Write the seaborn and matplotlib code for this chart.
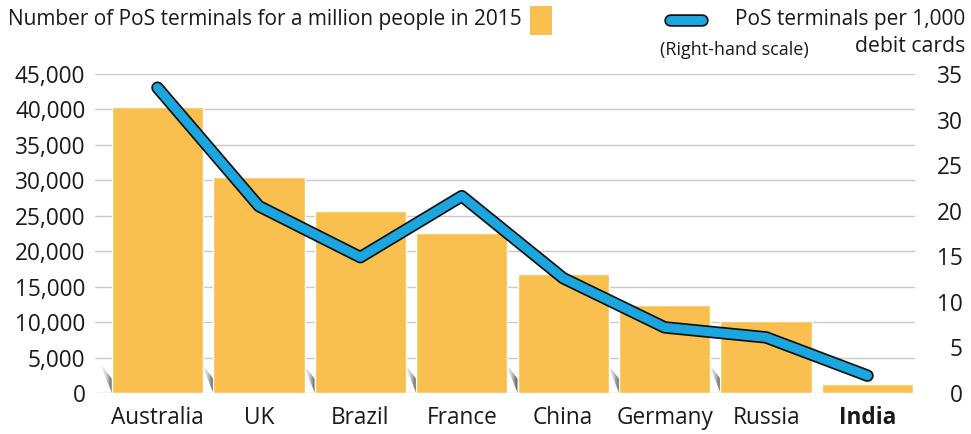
import numpy as np
import pandas as pd
import matplotlib
matplotlib.use("Agg")
import matplotlib.pyplot as plt
import matplotlib.patheffects as pe
from matplotlib.patches import Rectangle, Polygon
from matplotlib.lines import Line2D
from matplotlib.colors import LinearSegmentedColormap
import seaborn as sns

# ---- data ----
countries = ["Australia", "UK", "Brazil", "France", "China", "Germany", "Russia", "India"]
terminals_per_million = [40300, 30400, 25700, 22600, 16800, 12400, 10200, 1300]
terminals_per_1000_cards = [33.5, 20.5, 14.9, 21.6, 12.6, 7.2, 6.1, 1.9]
left_ticks = [0, 5000, 10000, 15000, 20000, 25000, 30000, 35000, 40000, 45000]
right_ticks = [0, 5, 10, 15, 20, 25, 30, 35]

BAR = "#F9C04F"
BLUE = "#1BA6E0"
GRID = "#C9C9C9"
FONT = "Open Sans"

sns.set_theme(style="white")
plt.rcParams["font.family"] = [FONT, "DejaVu Sans"]

W, H = 971, 434
fig = plt.figure(figsize=(W / 100, H / 100), dpi=100)
ax = fig.add_axes([95 / W, 41 / H, (915 - 95) / W, (393 - 74) / H])

df = pd.DataFrame({"country": countries, "value": terminals_per_million})
sns.barplot(data=df, x="country", y="value", color=BAR, width=0.9,
            saturation=1, ax=ax, zorder=2)
ax.set_xlim(-0.616, 7.468)
ax.set_ylim(0, 45000)
ax.set_yticks(left_ticks)
ax.set_yticklabels([f"{v:,}" for v in left_ticks])
ax.yaxis.grid(True, color=GRID, linewidth=1.0, zorder=0)
ax.set_axisbelow(True)
for s in ax.spines.values():
    s.set_visible(False)
ax.tick_params(axis="both", length=0, labelsize=16.3, colors="#1a1a1a")
ax.tick_params(axis="y", pad=7)
ax.tick_params(axis="x", pad=9.5)
ax.set_xlabel("")
ax.set_ylabel("")
for lab in ax.get_xticklabels():
    if lab.get_text() == "India":
        lab.set_fontweight("bold")

# small gradient shadow slivers at the left base of bars
shade = LinearSegmentedColormap.from_list("shade", ["#ffffff", "#d0d0d0", "#555555"])
grad = np.linspace(0, 1, 64).reshape(1, -1) * np.ones((64, 1))
for p in list(ax.patches):
    x0 = p.get_x()
    h = p.get_height()
    if h > 5000:
        poly = Polygon([(x0 - 0.12, 4300), (x0, 0), (x0, 2000)], closed=True,
                       facecolor="none", edgecolor="none", zorder=1.5)
        ax.add_patch(poly)
        im = ax.imshow(grad, extent=(x0 - 0.12, x0, 0, 4300), cmap=shade,
                       aspect="auto", origin="lower", zorder=1.5,
                       interpolation="bilinear")
        im.set_clip_path(poly)
ax.set_aspect("auto")
ax.set_xlim(-0.616, 7.468)
ax.set_ylim(0, 45000)

# right axis line
ax2 = ax.twinx()
sns.lineplot(x=np.arange(len(countries)), y=terminals_per_1000_cards, ax=ax2,
             color=BLUE, linewidth=6.5, zorder=3)
ln = ax2.lines[0]
ln.set_solid_capstyle("round")
ln.set_solid_joinstyle("round")
ln.set_path_effects([pe.Stroke(linewidth=9, foreground="#111111",
                               capstyle="round", joinstyle="round"), pe.Normal()])
ax2.set_ylim(0, 35)
ax2.set_yticks(right_ticks)
ax2.set_yticklabels([str(v) for v in right_ticks])
for s in ax2.spines.values():
    s.set_visible(False)
ax2.tick_params(axis="y", length=0, labelsize=16.3, colors="#1a1a1a", pad=34.5)
for lab in ax2.get_yticklabels():
    lab.set_horizontalalignment("right")
ax2.set_ylabel("")
ax2.grid(False)
ax.set_xlim(-0.616, 7.468)

# ---- legend / header ----
fig.text(8 / W, 1 - 20 / H, "Number of PoS terminals for a million people in 2015",
         fontsize=15, ha="left", va="center", color="#1a1a1a")
fig.patches.append(Rectangle((530 / W, 1 - 35 / H), 22 / W, 29 / H,
                             transform=fig.transFigure, facecolor=BAR,
                             edgecolor="none"))
leg_line = Line2D([670 / W, 702 / W], [1 - 20 / H, 1 - 20 / H],
                  transform=fig.transFigure, color=BLUE, linewidth=6.5,
                  solid_capstyle="round")
leg_line.set_path_effects([pe.Stroke(linewidth=9, foreground="#111111",
                                     capstyle="round"), pe.Normal()])
fig.lines.append(leg_line)
fig.text(965 / W, 1 - 19 / H, "PoS terminals per 1,000", fontsize=15,
         ha="right", va="center", color="#1a1a1a")
fig.text(965 / W, 1 - 47 / H, "debit cards", fontsize=15.3,
         ha="right", va="center", color="#1a1a1a")
fig.text(660 / W, 1 - 50 / H, "(Right-hand scale)", fontsize=13,
         ha="left", va="center", color="#1a1a1a")

fig.savefig("out.png", dpi=100, facecolor="white")
